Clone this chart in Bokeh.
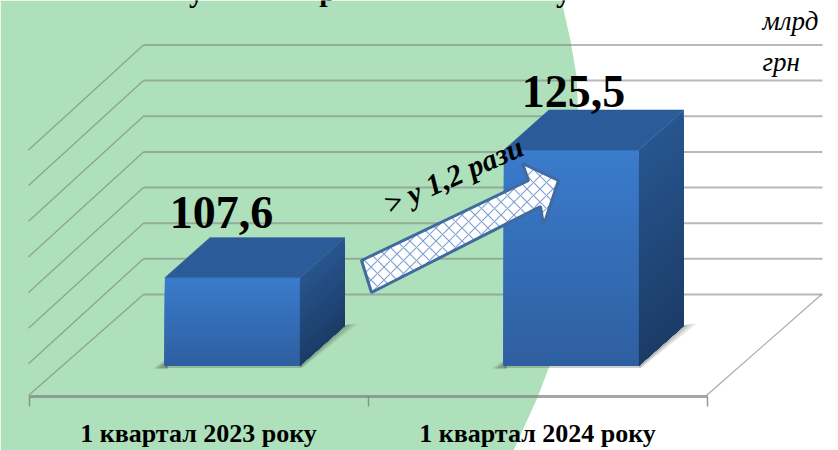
from bokeh.plotting import figure
from bokeh.models import Range1d, FixedTicker, ColumnDataSource
from bokeh.core.properties import value
from bokeh.embed import file_html
from bokeh.resources import INLINE

categories = ["1 квартал 2023 року", "1 квартал 2024 року"]
values = [107.6, 125.5]
grid_values = [95, 100, 105, 110, 115, 120, 125, 130]
unit_label = ["млрд", "грн"]
arrow_label = "> у 1,2 рази"

W, H = 838, 450
X0, XU = 28.5, 339.0       # px of category 0, px per category
Y95, YU = 367.0, 7.13      # px of value 95, px per value unit
SERIF = value("Liberation Serif")


def xd(px):
    return (px - X0) / XU


def yd(px):
    return 95 + (Y95 - px) / YU


DX, DY = 45 / XU, 40 / YU            # bar depth
GY = 73 / YU                         # back wall shift
GX = 115 / XU
BAR_W = 135 / XU
BAR_BASE = yd(365)

p = figure(width=W, height=H, output_backend="svg", toolbar_location=None,
           x_range=Range1d(xd(0), xd(W)), y_range=Range1d(yd(H), yd(0)),
           min_border=0, outline_line_color=None, background_fill_color="#ffffff",
           border_fill_color="#ffffff")
p.grid.visible = False
p.yaxis.visible = False

# green background shape
gx = [0, 561, 570, 576, 578, 577, 572, 562, 548, 537, 513, 0]
gy = [0, 0, 40, 75, 120, 200, 280, 330, 368, 397, 450, 450]
p.patch([xd(v) for v in gx], [yd(v) for v in gy], fill_color="#aee1bb", line_color=None)

# gridlines: back wall + left wall
GRID = "#808080"
back_l, back_r = xd(143), xd(822)
back = [v + GY for v in grid_values]
n = len(grid_values)
p.segment([back_l] * n, back, [back_r] * n, back, line_color=GRID, line_alpha=0.55, line_width=2)
drops = [101 / YU] + [105 / YU] * (n - 1)
p.segment([back_l] * n, back, [back_l - GX] * n, [v - d for v, d in zip(back, drops)],
          line_color=GRID, line_alpha=0.65, line_width=1.3)
# floor right edge
p.segment([xd(706)], [yd(395)], [xd(821)], [yd(294)], line_color=GRID, line_alpha=0.65, line_width=1.3)


def mix(a, b, t):
    ca = [int(a[i:i + 2], 16) for i in (1, 3, 5)]
    cb = [int(b[i:i + 2], 16) for i in (1, 3, 5)]
    return "#%02x%02x%02x" % tuple(round(m + (n - m) * t) for m, n in zip(ca, cb))


N = 30
for i, v in enumerate(values):
    left = i + 0.6 - BAR_W / 2
    right = left + BAR_W
    # soft floor shadow
    for k, a in zip((0, 4, 8), (0.10, 0.12, 0.16)):
        p.patch([left - (12 - k * .6) / XU, left + 3 / XU, left + 3 / XU],
                [BAR_BASE - 3 / YU, BAR_BASE + (8 - k * .4) / YU, BAR_BASE - 3 / YU],
                fill_color="#202020", fill_alpha=a, line_color=None)
        p.patch([right, right + DX, right + DX + (13 - k) / XU, right + (3 - k * .3) / XU],
                [BAR_BASE, BAR_BASE + DY, BAR_BASE + DY + 2 / YU, BAR_BASE - 2 / YU],
                fill_color="#202020", fill_alpha=a, line_color=None)
    p.patch([left, right + 2 / XU, right + 2 / XU, left],
            [BAR_BASE, BAR_BASE, BAR_BASE - 2.5 / YU, BAR_BASE - 2.5 / YU],
            fill_color="#404040", fill_alpha=0.25, line_color=None)

    # gradient faces: each slice reaches down to the base, so no seams show
    xs, ys, cs = [], [], []
    for k in range(N):
        t0 = k / N
        y0 = v + (BAR_BASE - v) * t0
        xs.append([left, right, right, left])
        ys.append([y0, y0, BAR_BASE, BAR_BASE])
        cs.append(mix("#3a7bcb", "#2e5e9f", t0))
        xs.append([right, right + DX, right + DX, right])
        ys.append([y0, y0 + DY, BAR_BASE + DY, BAR_BASE])
        cs.append(mix("#27558e", "#1b3b66", t0))
    p.patches(xs, ys, fill_color=cs, line_color=None)
    p.patch([left, right, right + DX, left + DX], [v, v, v + DY, v + DY],
            fill_color="#2b5c99", line_color="#2b5c99", line_width=0.6)

# x axis with ticks between the categories
ax = p.xaxis[0]
ax.fixed_location = yd(396)
ax.bounds = (0, 2)
ax.ticker = FixedTicker(ticks=[0.5, 1.5], minor_ticks=[0, 1, 2])
ax.major_label_overrides = {0.5: categories[0], 1.5: categories[1]}
ax.major_tick_line_color = None
ax.major_tick_in = 0
ax.major_tick_out = 0
ax.minor_tick_in = 0
ax.minor_tick_out = 10
ax.minor_tick_line_color = GRID
ax.minor_tick_line_alpha = 0.8
ax.minor_tick_line_width = 1.5
ax.axis_line_color = GRID
ax.axis_line_alpha = 0.7
ax.axis_line_width = 3
ax.major_label_standoff = 12
ax.major_label_text_font = "Liberation Serif"
ax.major_label_text_font_style = "bold"
ax.major_label_text_font_size = "26px"
ax.major_label_text_color = "#000000"

# arrow annotation
ax_px = [361, 528, 522, 558, 543, 540, 371]
ay_px = [260, 180, 163, 180, 225, 206, 292]
p.patch([xd(v) for v in ax_px], [yd(v) for v in ay_px], fill_color="#ffffff",
        hatch_pattern="diagonal_cross", hatch_color="#7f9fd2", hatch_scale=13, hatch_weight=1.1,
        line_color="#3f6b9f", line_width=3)

# texts
lab = ColumnDataSource(dict(x=[xd(221), xd(573)], y=[yd(212), yd(91)],
                            t=[f"{v:.1f}".replace(".", ",") for v in values]))
p.text("x", "y", text="t", source=lab, text_font=SERIF, text_font_style="bold",
       text_font_size="46px", text_align="center", text_baseline="alphabetic", text_color="#000000")
p.text([xd(385)], [yd(205)], text=[arrow_label], text_font=SERIF, text_font_style="bold italic",
       text_font_size="30px", angle=24, angle_units="deg", text_baseline="alphabetic", text_color="#000000")
p.text([xd(762), xd(762)], [yd(20), yd(61)], text=unit_label, text_font=SERIF, text_font_style="italic",
       text_font_size="27px", text_baseline="alphabetic", text_color="#000000")
# the chart's clipped title: only descenders remain in the frame
p.text([xd(196), xd(327), xd(563)], [yd(-9), yd(-10), yd(-9)], text=["у", "р", "у"], text_font=SERIF,
       text_font_style="bold", text_font_size="30px", text_align="center", text_baseline="alphabetic",
       text_color="#000000")

open("out.html", "w").write(file_html(p, INLINE))
